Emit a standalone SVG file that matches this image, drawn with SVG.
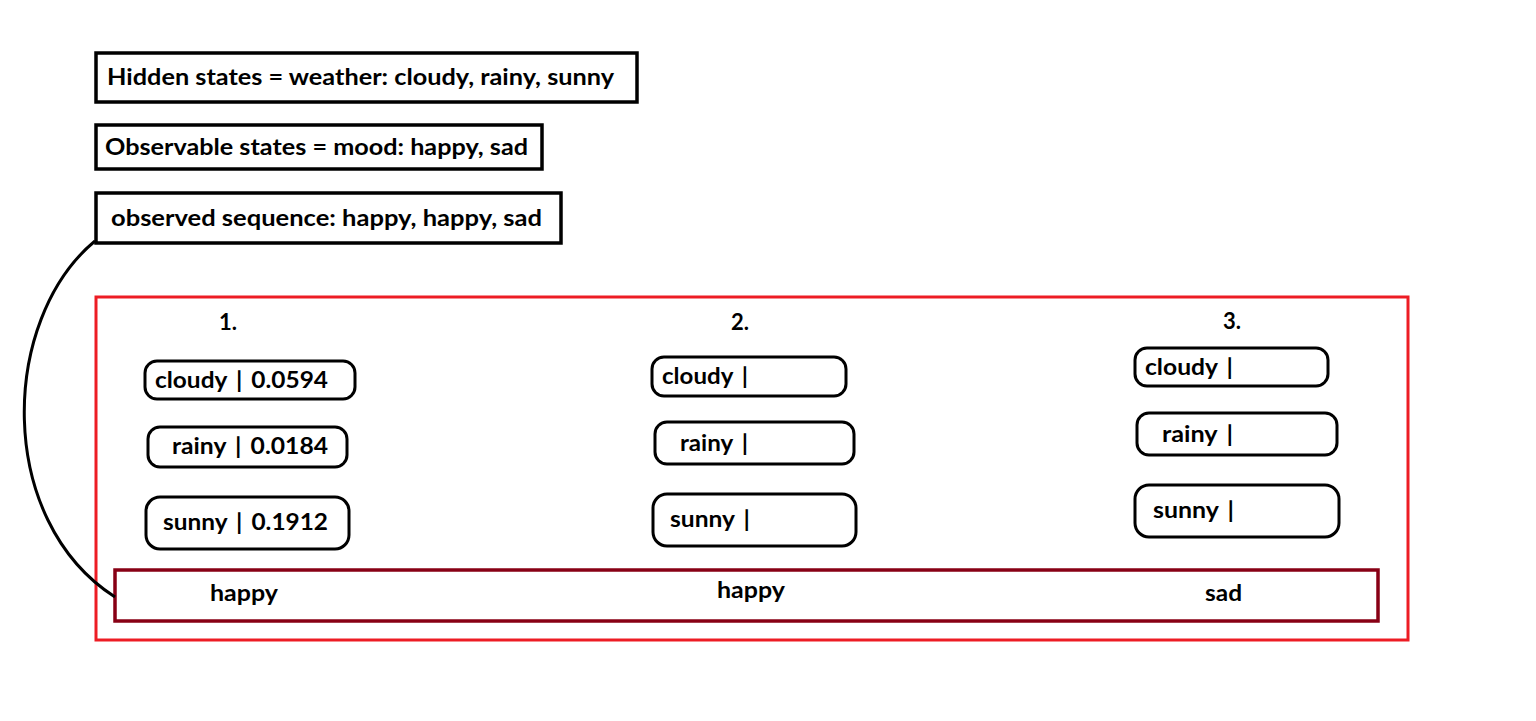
<svg xmlns="http://www.w3.org/2000/svg" width="1536" height="721" viewBox="0 0 1536 721">
<style>
text{font-family:"Lato","Open Sans","Liberation Sans",sans-serif;font-weight:bold;font-size:22px;fill:#000}
.n{font-size:23px;word-spacing:3px}
.box{fill:#fff;stroke:#000;stroke-width:3.5}
.st{fill:#fff;stroke:#000;stroke-width:3}
.c{text-anchor:middle}
</style>
<rect width="1536" height="721" fill="#fff"/>
<g id="hidden"><rect class="box" x="96" y="53" width="541" height="49"/><text x="107" y="85" textLength="507" lengthAdjust="spacingAndGlyphs">Hidden states = weather: cloudy, rainy, sunny</text></g>
<g id="observable"><rect class="box" x="96" y="125" width="446" height="44"/><text x="105" y="155" textLength="423" lengthAdjust="spacingAndGlyphs">Observable states = mood: happy, sad</text></g>
<g id="sequence"><rect class="box" x="96" y="193" width="465" height="50"/><text x="111" y="226" textLength="431" lengthAdjust="spacingAndGlyphs">observed sequence: happy, happy, sad</text></g>
<g id="frame"><rect x="96" y="297" width="1312" height="343" fill="none" stroke="#ed1c24" stroke-width="3"/></g>
<g id="observations"><rect x="115" y="570" width="1263" height="51" fill="none" stroke="#880015" stroke-width="3.5"/>
<text x="210" y="601" textLength="68" lengthAdjust="spacingAndGlyphs">happy</text><text x="717" y="598" textLength="68" lengthAdjust="spacingAndGlyphs">happy</text><text x="1205" y="601" textLength="37" lengthAdjust="spacingAndGlyphs">sad</text></g>
<g id="steps"><text class="c" x="228" y="330">1.</text><text class="c" x="740" y="330">2.</text><text class="c" x="1232" y="329">3.</text></g>
<g id="t1-cloudy"><rect class="st" x="145" y="361" width="210" height="38" rx="12"/><text class="n" x="155" y="388" textLength="173" lengthAdjust="spacingAndGlyphs">cloudy | 0.0594</text></g>
<g id="t1-rainy"><rect class="st" x="148" y="427" width="199" height="40" rx="12"/><text class="n" x="172" y="454" textLength="156" lengthAdjust="spacingAndGlyphs">rainy | 0.0184</text></g>
<g id="t1-sunny"><rect class="st" x="146" y="497" width="203" height="52" rx="14"/><text class="n" x="163" y="530" textLength="165" lengthAdjust="spacingAndGlyphs">sunny | 0.1912</text></g>
<g id="t2-cloudy"><rect class="st" x="652" y="357" width="194" height="39" rx="12"/><text class="n" x="662" y="384" textLength="86" lengthAdjust="spacingAndGlyphs">cloudy |</text></g>
<g id="t2-rainy"><rect class="st" x="655" y="422" width="199" height="42" rx="12"/><text class="n" x="680" y="451" textLength="68" lengthAdjust="spacingAndGlyphs">rainy |</text></g>
<g id="t2-sunny"><rect class="st" x="653" y="494" width="203" height="52" rx="14"/><text class="n" x="670" y="527" textLength="80" lengthAdjust="spacingAndGlyphs">sunny |</text></g>
<g id="t3-cloudy"><rect class="st" x="1135" y="348" width="193" height="38" rx="12"/><text class="n" x="1145" y="375" textLength="88" lengthAdjust="spacingAndGlyphs">cloudy |</text></g>
<g id="t3-rainy"><rect class="st" x="1137" y="413" width="200" height="42" rx="12"/><text class="n" x="1162" y="442" textLength="71" lengthAdjust="spacingAndGlyphs">rainy |</text></g>
<g id="t3-sunny"><rect class="st" x="1135" y="485" width="204" height="52" rx="14"/><text class="n" x="1153" y="518" textLength="81" lengthAdjust="spacingAndGlyphs">sunny |</text></g>
<g id="connectors"><path d="M95 241 C 0 320, -5 520, 115 597" fill="none" stroke="#000" stroke-width="3"/></g>
</svg>
